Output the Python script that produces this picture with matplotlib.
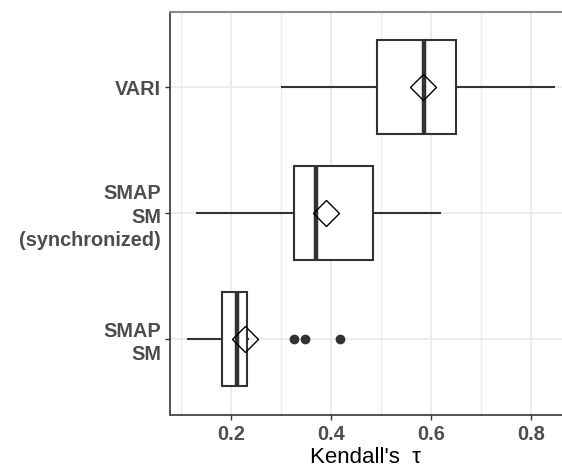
import matplotlib
matplotlib.use("Agg")
import matplotlib.pyplot as plt
import numpy as np

# categories bottom -> top
labels = ["SMAP\nSM", "SMAP\nSM\n(synchronized)", "VARI"]
whislo = [0.113, 0.131, 0.301]
q1 = [0.181, 0.326, 0.491]
med = [0.211, 0.369, 0.585]
q3 = [0.231, 0.483, 0.650]
whishi = [0.233, 0.617, 0.845]
means = [0.228, 0.389, 0.583]
fliers = [[0.326, 0.348, 0.418], [], []]

xticks = [0.2, 0.4, 0.6, 0.8]
xminor = [0.1, 0.3, 0.5, 0.7]

plt.rcParams['font.family'] = ['Liberation Sans', 'DejaVu Sans']

fig = plt.figure(figsize=(5.62, 4.70), dpi=100)
ax = fig.add_axes([169.5 / 562, 1 - 414.5 / 470, 1 - 169.5 / 562, (414.5 - 11.7) / 470])

stats = []
for i in range(len(labels)):
    stats.append(dict(whislo=whislo[i], q1=q1[i], med=med[i], q3=q3[i],
                      whishi=whishi[i], mean=means[i], fliers=fliers[i]))

pos = np.arange(1, len(labels) + 1)
dark = '#333333'
ax.bxp(stats, positions=pos, vert=False, widths=0.75, showmeans=True,
       showcaps=False, patch_artist=True,
       boxprops=dict(facecolor='white', edgecolor=dark, linewidth=1.5),
       whiskerprops=dict(color=dark, linewidth=1.5),
       medianprops=dict(color=dark, linewidth=3.2, solid_capstyle='butt'),
       meanprops=dict(marker='D', markersize=13.5, markerfacecolor='none',
                      markeredgecolor='black', markeredgewidth=1.0),
       flierprops=dict(marker='o', markersize=6, markerfacecolor=dark,
                       markeredgecolor=dark))

ax.set_xlim(0.077, 0.862)
ax.set_ylim(0.4, 3.6)
ax.set_xticks(xticks)
ax.set_xticklabels([f"{t:.1f}" for t in xticks])
ax.set_xticks(xminor, minor=True)
ax.set_yticks(pos)
ax.set_yticklabels(labels, linespacing=1.3)

ax.set_axisbelow(True)
ax.grid(True, which='major', color='#EBEBEB', linewidth=1.3)
ax.grid(True, which='minor', axis='x', color='#EBEBEB', linewidth=1.0)

for side in ['left', 'bottom']:
    ax.spines[side].set_color(dark)
    ax.spines[side].set_linewidth(1.2)
ax.spines['right'].set_visible(False)
ax.spines['top'].set_color('#8a8a8a')
ax.spines['top'].set_linewidth(1.5)

ax.tick_params(axis='both', which='major', length=3.5, width=1.0, color=dark,
               labelsize=14.3, labelcolor='#4D4D4D', pad=2.5)
ax.tick_params(axis='x', which='major', pad=4)
ax.tick_params(axis='x', which='minor', length=0)
for t in ax.get_xticklabels() + ax.get_yticklabels():
    t.set_fontweight('bold')

ax.set_xlabel("Kendall's  \u03c4", fontsize=16, color='black', labelpad=2)

fig.savefig("out.png", dpi=100)
